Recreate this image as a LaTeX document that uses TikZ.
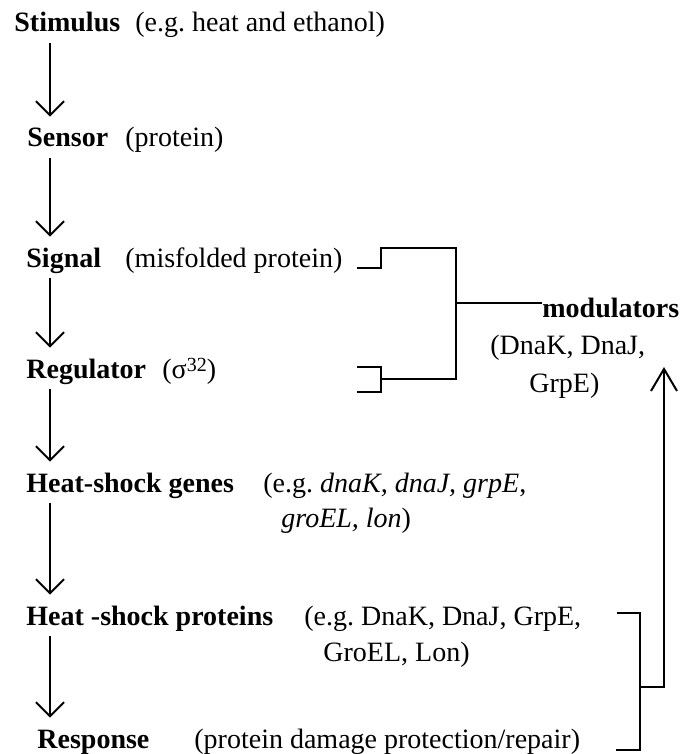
\documentclass[tikz,border=0pt]{standalone}
\usepackage{fontspec}
\setmainfont{Liberation Serif}
\usetikzlibrary{arrows.meta,positioning}

\begin{document}
\begin{tikzpicture}[
  x=0.5pt, y=-0.5pt,
  txt/.style={anchor=west, inner sep=0pt, text height=9pt, text depth=3pt,
    font=\fontsize{14}{17}\selectfont},
  stage/.style={txt, font=\fontsize{14}{17}\selectfont\bfseries},
  flow/.style={-{Straight Barb[length=7pt, width=14pt]}, line width=1pt,
    shorten <=2.5pt, shorten >=6pt},
  feedback/.style={-{Straight Barb[length=11pt, width=13pt]}, line width=1pt},
  bracket/.style={line width=1pt},
]
  \useasboundingbox (0,0) rectangle (683,754);
  \coordinate (col) at (50,0);

  % pathway
  \node[stage] (stim) at (14, 26) {Stimulus};
  \node[txt] (stimnote) at (135, 26) {(e.g.\ heat and ethanol)};
  \node[stage] (sens) at (27, 141) {Sensor};
  \node[txt] (sensnote) at (125, 141) {(protein)};
  \node[stage] (sig) at (26, 261) {Signal};
  \node[txt] (signote) at (125, 261) {(misfolded protein)};
  \node[stage] (reg) at (26, 372) {Regulator};
  \node[txt] (regnote) at (162, 372)
    {(σ\raisebox{3.5pt}{\fontsize{10}{10}\selectfont 32})};
  \node[stage] (genes) at (26, 486) {Heat-shock genes};
  \node[txt] (genesnote) at (263, 486) {(e.g.\ \textit{dnaK, dnaJ, grpE},};
  \node[txt] (genesnote2) at (281, 521) {\textit{groEL, lon})};
  \node[stage] (prot) at (26, 619) {Heat -shock proteins};
  \node[txt] (protnote) at (304, 619) {(e.g.\ DnaK, DnaJ, GrpE,};
  \node[txt] (protnote2) at (323, 655) {GroEL, Lon)};
  \node[stage] (resp) at (37, 742) {Response};
  \node[txt] (respnote) at (194, 742) {(protein damage protection/repair)};

  \draw[flow] (stim.south -| col) -- (sens.north -| col);
  \draw[flow] (sens.south -| col) -- (sig.north -| col);
  \draw[flow] (sig.south -| col) -- (reg.north -| col);
  \draw[flow] (reg.south -| col) -- (genes.north -| col);
  \draw[flow] (genes.south -| col) -- (prot.north -| col);
  \draw[flow] (prot.south -| col) -- (resp.north -| col);

  % modulators
  \node[stage] (mod) at (542, 311) {modulators};
  \node[txt] (modnote) at (490, 348) {(DnaK, DnaJ,};
  \node[txt] (modnote2) at (529, 386) {GrpE)};

  \draw[bracket] (357,268) -- (381,268) -- (381,248) -- (456,248)
    -- (456,379) -- (381,379);
  \draw[bracket] (357,367) -- (381,367) -- (381,392) -- (357,392);
  \coordinate (join) at (456,303);
  \draw[bracket] (join) -- ([yshift=4pt]mod.west);

  % feedback from the heat-shock proteins
  \draw[bracket] (617,613) -- (640,613) -- (640,750) -- (616,750);
  \coordinate (ret) at (640,687);
  \coordinate (uptip) at (664,367);
  \draw[feedback] (ret) -- (ret -| uptip) -- (uptip);
\end{tikzpicture}
\end{document}
